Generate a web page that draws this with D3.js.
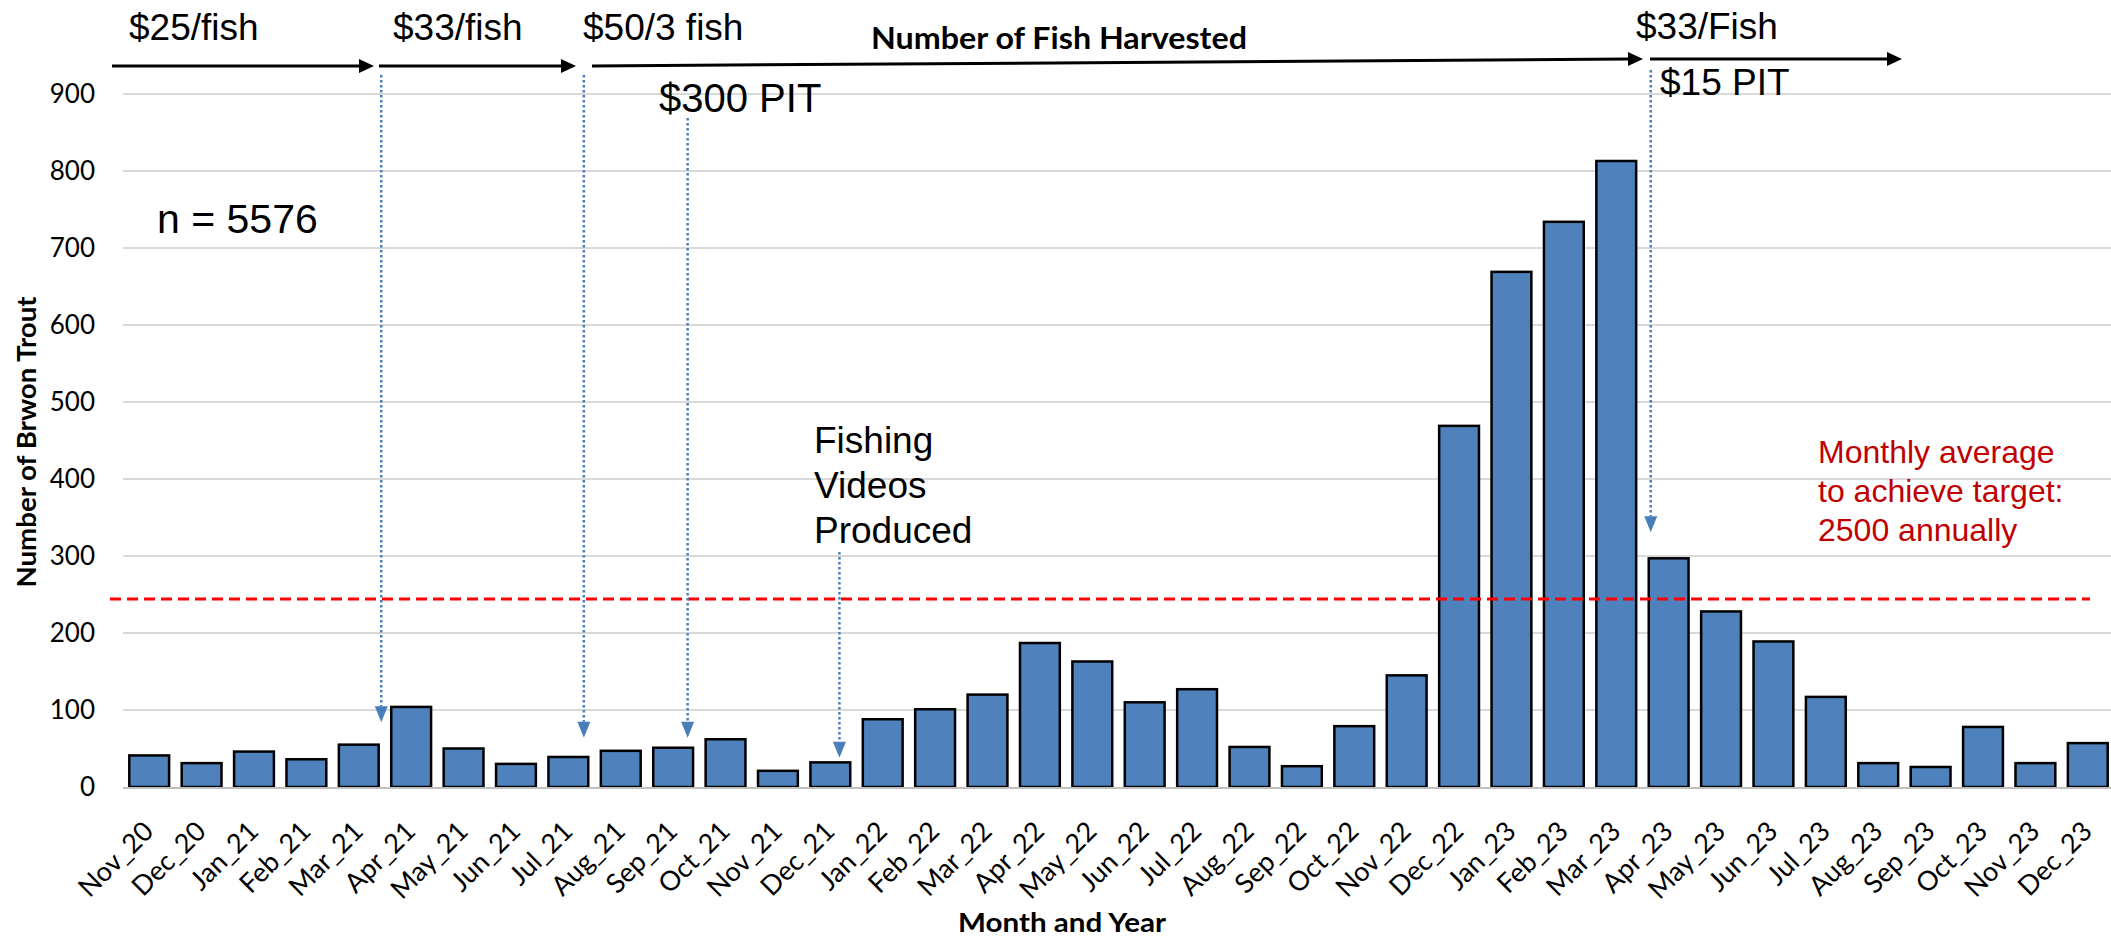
<!DOCTYPE html>
<html><head><meta charset="utf-8">
<script src="https://cdn.jsdelivr.net/npm/d3@7"></script>
<style>body{margin:0;background:#fff}svg{display:block}</style>
</head><body><svg id="c" width="2111" height="938"></svg>
<script>
const months = ["Nov_20","Dec_20","Jan_21","Feb_21","Mar_21","Apr_21","May_21","Jun_21","Jul_21","Aug_21","Sep_21","Oct_21","Nov_21","Dec_21","Jan_22","Feb_22","Mar_22","Apr_22","May_22","Jun_22","Jul_22","Aug_22","Sep_22","Oct_22","Nov_22","Dec_22","Jan_23","Feb_23","Mar_23","Apr_23","May_23","Jun_23","Jul_23","Aug_23","Sep_23","Oct_23","Nov_23","Dec_23"];
const counts = [41,31,46,36,55,104,50,30,39,47,51,62,21,32,88,101,120,187,163,110,127,52,27,79,145,469,669,734,813,297,228,189,117,31,26,78,31,57];
const yTicks = [0,100,200,300,400,500,600,700,800,900];
const targetAverage = 244;
const targetLines = ["Monthly average","to achieve target:","2500 annually"];
const videoLines = ["Fishing","Videos","Produced"];

const svg = d3.select("#c");
const x = d3.scaleBand().domain(months).range([123,2114]).paddingInner(0.24).paddingOuter(0.12);
const y = d3.scaleLinear().domain([0,900]).range([787,94]);
const bw = x.bandwidth();

// gridlines
svg.append("g").selectAll("line").data(yTicks.filter(d=>d>0)).join("line")
  .attr("x1",123).attr("x2",2111).attr("y1",d=>y(d)).attr("y2",d=>y(d))
  .attr("stroke","#d9d9d9").attr("stroke-width",2);

// y axis labels
const ya = svg.append("g").attr("transform","translate(123,0)")
  .call(d3.axisLeft(y).tickValues(yTicks).tickSize(0).tickPadding(28));
ya.select(".domain").remove();
ya.selectAll("text").attr("font-family","Lato, 'Open Sans', sans-serif").attr("font-size",26).attr("fill","#000");

// bars
svg.append("g").selectAll("rect").data(counts).join("rect")
  .attr("x",(d,i)=>x(months[i])).attr("y",d=>y(d))
  .attr("width",bw).attr("height",d=>y(0)-y(d))
  .attr("fill","#4f81bd").attr("stroke","#000").attr("stroke-width",2.5);

// zero line
svg.append("line").attr("x1",123).attr("x2",2111).attr("y1",y(0)+1).attr("y2",y(0)+1)
  .attr("stroke","#bfbfbf").attr("stroke-width",2);

// x axis labels
const xa = svg.append("g").attr("transform",`translate(0,${y(0)})`)
  .call(d3.axisBottom(x).tickSize(0));
xa.select(".domain").remove();
xa.selectAll("text").attr("x",0).attr("y",0).attr("dy",0)
  .attr("text-anchor","end").attr("transform","translate(6,46) rotate(-45)")
  .attr("font-family","Lato, 'Open Sans', sans-serif").attr("font-size",27).attr("fill","#000");

// target dashed line
svg.append("line").attr("x1",110).attr("x2",2090).attr("y1",y(targetAverage)).attr("y2",y(targetAverage))
  .attr("stroke","#ff0000").attr("stroke-width",3).attr("stroke-dasharray","11,6");

// arrows helper
function arrow(x1,y1,x2,y2,color,w,hl,hw,dash){
  const a = Math.atan2(y2-y1,x2-x1);
  const bx = x2 - hl*Math.cos(a), by = y2 - hl*Math.sin(a);
  svg.append("line").attr("x1",x1).attr("y1",y1).attr("x2",bx).attr("y2",by)
    .attr("stroke",color).attr("stroke-width",w).attr("stroke-dasharray",dash||null);
  const px = -Math.sin(a)*hw/2, py = Math.cos(a)*hw/2;
  svg.append("path").attr("d",`M${x2},${y2}L${bx+px},${by+py}L${bx-px},${by-py}Z`).attr("fill",color);
}
// top black arrows
arrow(112,66,374,66,"#000",3,15,14);
arrow(379,66,576,66,"#000",3,15,14);
arrow(592,66,1643,59,"#000",3,15,14);
arrow(1650,59,1902,59,"#000",3,15,14);

// blue dotted arrows
const blue = "#4a7ebb";
arrow(x("Apr_21")-10,75,x("Apr_21")-10,y(84),blue,2.5,16,13,"2.5,2.5");
arrow(x("Aug_21")-17,75,x("Aug_21")-17,y(64),blue,2.5,16,13,"2.5,2.5");
arrow(x("Oct_21")-18,118,x("Oct_21")-18,y(64),blue,2.5,16,13,"2.5,2.5");
arrow(x("Dec_21")+29,552,x("Dec_21")+29,y(38),blue,2.5,16,13,"2.5,2.5");
arrow(x("Apr_23")+2,70,x("Apr_23")+2,y(331),blue,2.5,16,13,"2.5,2.5");

// annotation texts
const arial = "'Liberation Sans', Arial, sans-serif";
function t(str,xx,yy,size,opts={}){
  const e = svg.append("text").attr("x",xx).attr("y",yy).text(str)
    .attr("font-family",opts.family||arial).attr("font-size",size)
    .attr("fill",opts.fill||"#000").attr("font-weight",opts.bold?"bold":"normal");
  if(opts.len) e.attr("textLength",opts.len).attr("lengthAdjust","spacingAndGlyphs");
  if(opts.anchor) e.attr("text-anchor",opts.anchor);
  return e;
}
t("$25/fish",129,40,37);
t("$33/fish",393,40,37);
t("$50/3 fish",583,40,37);
t("$300 PIT",659,112,40);
t("Number of Fish Harvested",871,49,31,{bold:true,family:"Lato, sans-serif",len:376});
t("$33/Fish",1636,39,37);
t("$15 PIT",1660,95,37);
t("n = 5576",157,233,41);
videoLines.forEach((s,i)=>t(s,814,453+i*45,37));
targetLines.forEach((s,i)=>t(s,1818,463+i*39,32,{fill:"#c00000"}));

// axis titles
svg.append("text").attr("transform","translate(36,442) rotate(-90)").attr("text-anchor","middle")
  .attr("font-family","Lato, sans-serif").attr("font-weight","bold").attr("font-size",27)
  .attr("textLength",291).attr("lengthAdjust","spacingAndGlyphs").text("Number of Brwon Trout");
t("Month and Year",1062,932,27,{bold:true,family:"Lato, sans-serif",len:208,anchor:"middle"});
</script></body></html>
